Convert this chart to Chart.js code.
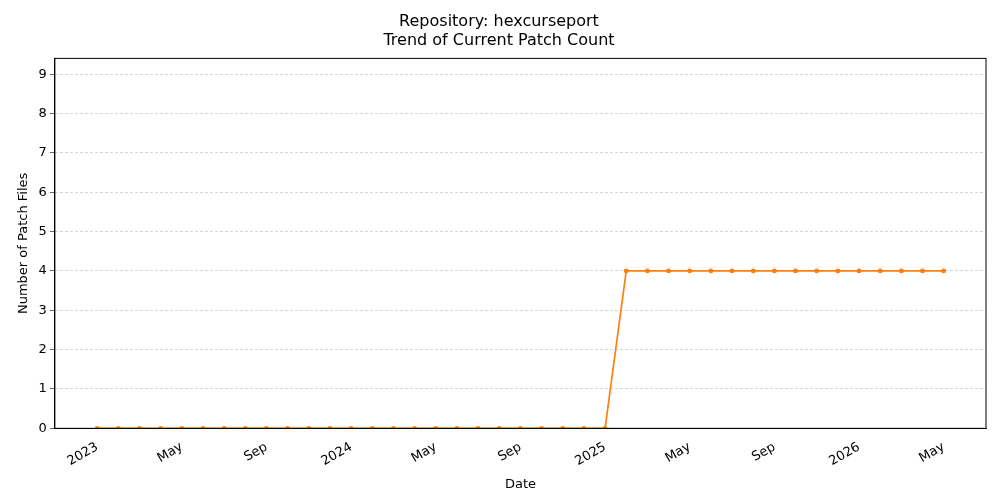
<!DOCTYPE html>
<html>
<head>
<meta charset="utf-8">
<script src="https://cdn.jsdelivr.net/npm/chart.js@4"></script>
<style>
  html, body { margin: 0; padding: 0; background: #fff; }
  #wrap { width: 1000px; height: 500px; }
</style>
</head>
<body>
<div id="wrap"><canvas id="chart"></canvas></div>
<script>
// monthly snapshots, Jan 2023 .. May 2026 (month index 0..40)
const months = [];
for (let i = 0; i <= 40; i++) months.push(i);
const patchCounts = [
  0,0,0,0,0,0,0,0,0,0,0,0,   // 2023
  0,0,0,0,0,0,0,0,0,0,0,0,   // 2024
  0,4,4,4,4,4,4,4,4,4,4,4,   // 2025
  4,4,4,4,4                  // 2026 Jan-May
];
const tickPositions = [0, 4, 8, 12, 16, 20, 24, 28, 32, 36, 40];
const tickLabels = ['2023', 'May', 'Sep', '2024', 'May', 'Sep', '2025', 'May', 'Sep', '2026', 'May'];
const yTicks = [0, 1, 2, 3, 4, 5, 6, 7, 8, 9];

const frame = {
  id: 'frame',
  afterDraw(chart) {
    const a = chart.chartArea, ctx = chart.ctx;
    ctx.save();
    ctx.strokeStyle = '#000';
    ctx.lineWidth = 1;
    ctx.strokeRect(a.left, a.top, a.right - a.left, a.bottom - a.top);
    ctx.restore();
  }
};

const font = { family: 'DejaVu Sans', size: 13 };

new Chart(document.getElementById('chart'), {
  type: 'line',
  data: {
    datasets: [{
      data: months.map((m, i) => ({ x: m, y: patchCounts[i] })),
      borderColor: '#ff7f0e',
      backgroundColor: '#ff7f0e',
      borderWidth: 1.7,
      pointRadius: 1.6,
      pointHoverRadius: 1.6,
      tension: 0
    }]
  },
  options: {
    responsive: true,
    maintainAspectRatio: false,
    animation: false,
    layout: { padding: { left: 12, right: 14, top: 4, bottom: 4 } },
    plugins: {
      legend: { display: false },
      tooltip: { enabled: false },
      title: {
        display: true,
        text: ['Repository: hexcurseport', 'Trend of Current Patch Count'],
        color: '#000',
        font: { family: 'DejaVu Sans', size: 16, weight: 'normal', lineHeight: 1.2 },
        padding: { top: 8, bottom: 8 }
      }
    },
    scales: {
      x: {
        type: 'linear',
        min: -2,
        max: 42,
        afterBuildTicks: axis => { axis.ticks = tickPositions.map(v => ({ value: v })); },
        ticks: {
          color: '#000',
          font: font,
          maxRotation: 30,
          minRotation: 30,
          callback: v => tickLabels[tickPositions.indexOf(v)]
        },
        grid: { display: false, drawTicks: true },
        border: { color: '#000' },
        title: { display: true, text: 'Date', color: '#000', font: font }
      },
      y: {
        min: 0,
        max: 9.4,
        afterBuildTicks: axis => { axis.ticks = yTicks.map(v => ({ value: v })); },
        ticks: { color: '#000', font: font },
        grid: { color: '#bbb', borderDash: [3, 2], lineWidth: 0.6, tickColor: '#000', tickLength: 5 },
        border: { color: '#000', dash: [3, 2] },
        title: { display: true, text: 'Number of Patch Files', color: '#000', font: font }
      }
    }
  },
  plugins: [frame]
});
</script>
</body>
</html>
